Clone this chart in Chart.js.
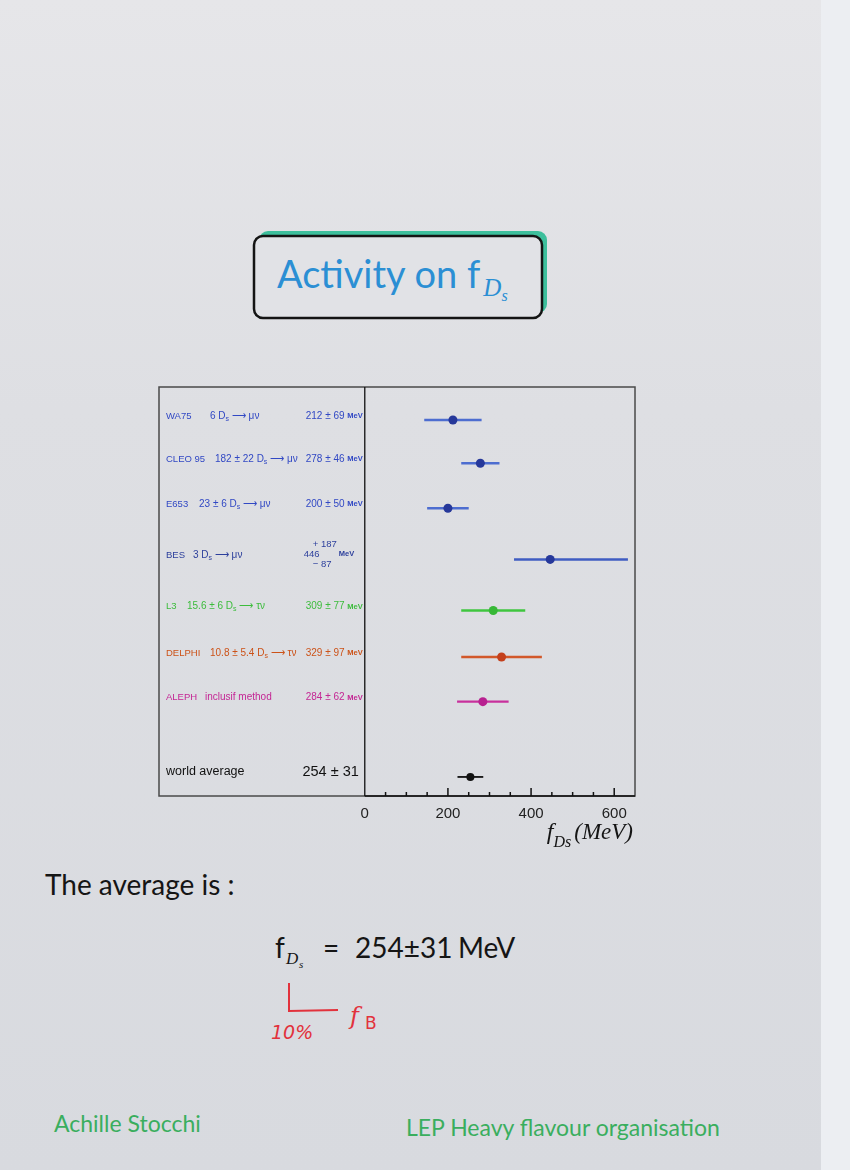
<!DOCTYPE html>
<html>
<head>
<meta charset="utf-8">
<title>Activity on fDs</title>
<script src="https://cdn.jsdelivr.net/npm/chart.js@4.4.1/dist/chart.umd.min.js"></script>
<style>
  body { margin: 0; }
  .page {
    position: relative; width: 850px; height: 1170px; overflow: hidden;
    background: linear-gradient(180deg, #e6e6e9 0%, #dedfe3 35%, #d8dadf 100%);
  }
  .strip { position: absolute; left: 821px; top: 0; width: 29px; height: 1170px; background: #eceef2; }
  svg.deco { position: absolute; left: 0; top: 0; }
  .chartBox { position: absolute; left: 150px; top: 380px; width: 500px; height: 480px; }
</style>
</head>
<body>
<div class="page">
  <div class="strip"></div>
  <svg class="deco" width="850" height="1170">
    <!-- title box -->
    <rect x="259" y="231" width="288" height="82" rx="9" fill="#3dbf9c"/>
    <rect x="254" y="236" width="288" height="82" rx="9" fill="#e1e2e6" stroke="#141414" stroke-width="2.5"/>
    <text x="277" y="288" font-family="Lato" font-size="38" fill="#2b8fd4">Activity on f<tspan dx="3" dy="8" font-family="Liberation Serif" font-style="italic" font-size="25">D</tspan><tspan dy="5" font-family="Liberation Serif" font-style="italic" font-size="16">s</tspan></text>

    <!-- text under the chart -->
    <text x="45" y="895" font-family="Lato" font-size="28" fill="#151515">The average is :</text>
    <text x="275" y="958" font-family="Lato" font-size="28" fill="#151515">f</text>
    <text x="286" y="964" font-family="Liberation Serif" font-style="italic" font-size="17" fill="#151515">D</text>
    <text x="299" y="968" font-family="Liberation Serif" font-style="italic" font-size="11" fill="#151515">s</text>
    <text x="323" y="958" font-family="Lato" font-size="28" fill="#151515">=</text>
    <text x="355" y="958" font-family="Lato" font-size="28" fill="#151515">254±31</text>
    <text x="458" y="958" font-family="Lato" font-size="28" fill="#151515">MeV</text>

    <!-- red hand note -->
    <path d="M289,983 L289,1011 L338,1010" fill="none" stroke="#e2323c" stroke-width="2"/>
    <text x="271" y="1039" font-family="DejaVu Sans" font-style="italic" font-size="19" fill="#e2323c">10%</text>
    <text x="350" y="1024" font-family="DejaVu Serif" font-style="italic" font-size="24" fill="#e2323c">f</text>
    <text x="365" y="1029" font-family="DejaVu Sans" font-size="17" fill="#e2323c">B</text>

    <!-- footer -->
    <text x="54" y="1132" font-family="Lato" font-size="23" fill="#3aae5e">Achille Stocchi</text>
    <text x="406" y="1136" font-family="Lato" font-size="23" fill="#3aae5e">LEP Heavy flavour organisation</text>
  </svg>
  <div class="chartBox"><canvas id="fdsChart" width="500" height="480"></canvas></div>
</div>

<script>
// Measurements of fDs
const experiments = ["WA75", "CLEO 95", "E653", "BES", "L3", "DELPHI", "ALEPH", "world average"];
const processes = ["6 D_s ⟶ μν", "182 ± 22 D_s ⟶ μν", "23 ± 6 D_s ⟶ μν", "3 D_s ⟶ μν",
  "15.6 ± 6 D_s ⟶ τν", "10.8 ± 5.4 D_s ⟶ τν", "inclusif method", ""];
const fDs = [212, 278, 200, 446, 309, 329, 284, 254];
const errMinus = [69, 46, 50, 87, 77, 97, 62, 31];
const errPlus = [69, 46, 50, 187, 77, 97, 62, 31];
const rowPos = [1, 1.93, 2.9, 4.0, 5.1, 6.1, 7.06, 8.68];
const xTickLabels = [0, 200, 400, 600];

// styling
const lineColors = ["#4d6dd0", "#4d6dd0", "#4d6dd0", "#3f5cc2", "#3fc63f", "#d2582a", "#c8309c", "#111"];
const dotColors = ["#26389a", "#26389a", "#26389a", "#26389a", "#37b837", "#c4401c", "#b82090", "#111"];
const textColors = ["#3148c4", "#3148c4", "#3148c4", "#2c3f9c", "#3cbc3c", "#cc5218", "#c42694", "#111"];
const procX = [60, 65, 49, 43, 37, 60, 55, 0];

// text with a small "s" subscript where "_s" appears
function runsFor(str, size) {
  const out = [];
  str.split("_s").forEach((p, i) => {
    if (i > 0) out.push({ t: "s", font: Math.round(size * 0.7) + 'px "Liberation Sans"', dy: size * 0.3 });
    if (p) out.push({ t: p, font: size + 'px "Liberation Sans"', dy: 0 });
  });
  return out;
}

function drawRuns(ctx, runs, x, y, align) {
  let w = 0;
  runs.forEach(r => { ctx.font = r.font; r.w = ctx.measureText(r.t).width; w += r.w; });
  let cx = align === "right" ? x - w : x;
  runs.forEach(r => { ctx.font = r.font; ctx.fillText(r.t, cx, y + r.dy); cx += r.w; });
}

const panelPlugin = {
  id: "panel",
  afterDraw(chart) {
    const { ctx, chartArea: a, scales: { x, y } } = chart;
    ctx.save();
    ctx.strokeStyle = "#4a4a4a";
    ctx.lineWidth = 1.5;
    ctx.strokeRect(a.left, a.top, a.right - a.left, a.bottom - a.top);

    const x0 = x.getPixelForValue(0);
    ctx.strokeStyle = "#111";
    ctx.lineWidth = 1.3;
    ctx.beginPath();
    ctx.moveTo(x0, a.top);
    ctx.lineTo(x0, a.bottom);
    ctx.moveTo(x0, a.bottom);
    ctx.lineTo(a.right, a.bottom);
    ctx.stroke();

    // inward ticks every 50 MeV
    ctx.lineWidth = 1.5;
    for (let v = 50; v < 650; v += 50) {
      const px = x.getPixelForValue(v);
      const len = v % 200 === 0 ? 8 : 4;
      ctx.beginPath();
      ctx.moveTo(px, a.bottom);
      ctx.lineTo(px, a.bottom - len);
      ctx.stroke();
    }

    // row labels
    ctx.textBaseline = "middle";
    ctx.textAlign = "left";
    experiments.forEach((name, i) => {
      const py = y.getPixelForValue(rowPos[i]) - 4;
      ctx.fillStyle = textColors[i];
      if (name === "world average") {
        ctx.font = '12.5px "Liberation Sans"';
        ctx.fillText(name, a.left + 7, py - 1);
        drawRuns(ctx, [{ t: fDs[i] + " ± " + errMinus[i], font: '14.5px "Liberation Sans"', dy: 0 }], x0 - 6, py - 1, "right");
        return;
      }
      ctx.font = '9.5px "Liberation Sans"';
      ctx.fillText(name, a.left + 7, py);
      drawRuns(ctx, runsFor(processes[i], 10), procX[i], py, "left");
      if (errMinus[i] === errPlus[i]) {
        drawRuns(ctx, [
          { t: fDs[i] + " ± " + errMinus[i] + " ", font: '10px "Liberation Sans"', dy: 0 },
          { t: "MeV", font: 'bold 7.5px "Liberation Sans"', dy: 0 }
        ], x0 - 2, py, "right");
      } else {
        const by = py - 1;
        ctx.font = '9.5px "Liberation Sans"';
        ctx.fillText(String(fDs[i]), x0 - 61, by);
        ctx.fillText("+ " + errPlus[i], x0 - 52, by - 10);
        ctx.fillText("− " + errMinus[i], x0 - 52, by + 10);
        ctx.font = 'bold 7.5px "Liberation Sans"';
        ctx.fillText("MeV", x0 - 26, by);
      }
    });

    // axis title f_Ds (MeV)
    ctx.fillStyle = "#151515";
    ctx.textBaseline = "alphabetic";
    ctx.textAlign = "right";
    let tx = a.right - 2;
    const ty = a.bottom + 43;
    ctx.font = 'italic 23px "Liberation Serif"';
    ctx.fillText("(MeV)", tx, ty);
    tx -= ctx.measureText("(MeV)").width + 3;
    ctx.font = 'italic 16px "Liberation Serif"';
    ctx.fillText("Ds", tx, ty + 8);
    tx -= ctx.measureText("Ds").width;
    ctx.font = 'italic 24px "Liberation Serif"';
    ctx.fillText("f", tx, ty);
    ctx.restore();
  }
};

const pointDataset = {
  data: fDs.map((v, i) => ({ x: v, y: rowPos[i] })),
  pointRadius: fDs.map((v, i) => (i === fDs.length - 1 ? 4 : 4.5)),
  pointBackgroundColor: dotColors,
  pointBorderWidth: 0,
};

const errorDatasets = fDs.map((v, i) => ({
  data: [{ x: v - errMinus[i], y: rowPos[i] }, { x: v + errPlus[i], y: rowPos[i] }],
  showLine: true,
  borderColor: lineColors[i],
  borderWidth: i === fDs.length - 1 ? 1.8 : 2.4,
  pointRadius: 0,
}));

const fdsCtx = document.getElementById("fdsChart").getContext("2d");
new Chart(fdsCtx, {
  type: "scatter",
  data: { datasets: [pointDataset, ...errorDatasets] },
  options: {
    responsive: false,
    animation: false,
    layout: { padding: { left: 9, right: 15, top: 7, bottom: 28 } },
    plugins: { legend: { display: false }, tooltip: { enabled: false } },
    scales: {
      x: {
        type: "linear",
        min: -495,
        max: 650,
        afterBuildTicks: scale => { scale.ticks = xTickLabels.map(v => ({ value: v })); },
        ticks: {
          font: { family: "Liberation Sans", size: 15 },
          color: "#222",
          padding: 9,
          maxRotation: 0,
          autoSkip: false,
        },
        grid: { display: false, drawTicks: false },
        border: { display: false },
      },
      y: {
        type: "linear",
        reverse: true,
        min: 0.29,
        max: 9.09,
        display: false,
      },
    },
  },
  plugins: [panelPlugin],
});
</script>
</body>
</html>
